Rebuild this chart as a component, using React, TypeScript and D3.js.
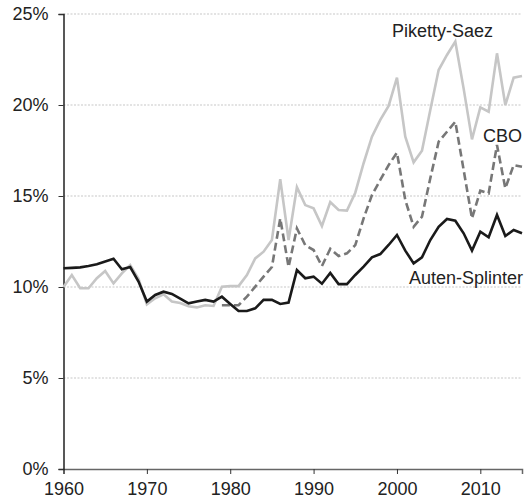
import * as d3 from "d3";
import { useRef, useEffect } from "react";

const years = d3.range(1960, 2016);

const pikettySaez = [
  10.0, 10.66, 9.93, 9.93, 10.48, 10.88, 10.2, 10.75, 11.2, 10.45,
  9.05, 9.38, 9.6, 9.2, 9.12, 8.94, 8.88, 9.0, 8.96, 10.02,
  10.05, 10.05, 10.66, 11.57, 11.94, 12.58, 15.92, 12.58, 15.48, 14.5,
  14.32, 13.35, 14.67, 14.23, 14.2, 15.18, 16.8, 18.26, 19.18, 19.95,
  21.5, 18.26, 16.85, 17.49, 19.73, 21.92, 22.75, 23.48, 20.9, 18.11,
  19.87, 19.63, 22.84, 20.0, 21.5, 21.59,
];

const autenSplinter = [
  11.03, 11.05, 11.08, 11.15, 11.25, 11.4, 11.55, 10.97, 11.1, 10.3,
  9.2, 9.56, 9.74, 9.62, 9.36, 9.1, 9.2, 9.29, 9.2, 9.47,
  9.07, 8.68, 8.68, 8.83, 9.29, 9.29, 9.07, 9.14, 10.93, 10.48,
  10.57, 10.18, 10.77, 10.16, 10.16, 10.66, 11.12, 11.63, 11.81, 12.31,
  12.86, 12.0, 11.3, 11.63, 12.58, 13.31, 13.74, 13.64, 12.95, 12.0,
  13.04, 12.73, 13.96, 12.8, 13.13, 12.95,
];

const cboYears = d3.range(1979, 2016);
const cbo = [
  9.0, 9.0, 9.0, 9.47, 10.02, 10.57, 11.1, 13.77, 11.1, 13.22,
  12.3, 12.03, 11.15, 12.1, 11.7, 11.85, 12.3, 13.77, 15.05, 15.88,
  16.7, 17.38, 14.78, 13.31, 13.86, 15.97, 17.98, 18.53, 19.08, 16.43,
  13.77, 15.29, 15.15, 17.8, 15.42, 16.7, 16.61,
];

const yTicks = [0, 5, 10, 15, 20, 25];
const xTicks = [1960, 1970, 1980, 1990, 2000, 2010];

const font = "Liberation Sans, Arial, sans-serif";

export default function App({
  width = 531,
  height = 501,
  marginTop = 14,
  marginRight = 9,
  marginBottom = 32,
  marginLeft = 63.5,
}) {
  const gx = useRef(null);
  const gy = useRef(null);
  const x = d3.scaleLinear([1960, 2015], [marginLeft, width - marginRight]);
  const y = d3.scaleLinear([0, 25], [height - marginBottom, marginTop]);
  const line = d3
    .line<[number, number]>()
    .x((d) => x(d[0]))
    .y((d) => y(d[1]));

  useEffect(() => {
    const g = d3.select(gx.current);
    g.selectAll("*").remove();
    g.call(
      d3.axisBottom(x).tickValues(xTicks).tickFormat(d3.format("d")).tickSize(5).tickPadding(8)
    );
    g.select(".domain").attr("stroke", "#666").attr("stroke-width", 1.5);
    g.selectAll(".tick line").attr("stroke", "#333");
    g.selectAll("text").attr("font-family", font).attr("font-size", 18).attr("fill", "#222");
  }, [x]);

  useEffect(() => {
    const g = d3.select(gy.current);
    g.selectAll("*").remove();
    g.call(
      d3.axisLeft(y).tickValues(yTicks).tickFormat((d) => `${d}%`).tickSize(5).tickPadding(10)
    );
    g.select(".domain").attr("stroke", "#222").attr("stroke-width", 1.5);
    g.selectAll(".tick line").attr("stroke", "#333");
    g.selectAll("text").attr("font-family", font).attr("font-size", 18).attr("fill", "#222");
  }, [y]);

  const ps = years.map((yr, i) => [yr, pikettySaez[i]] as [number, number]);
  const as = years.map((yr, i) => [yr, autenSplinter[i]] as [number, number]);
  const cb = cboYears.map((yr, i) => [yr, cbo[i]] as [number, number]);

  return (
    <svg
      width={width}
      height={height}
      style={{ position: "absolute", left: 0, top: 0, background: "#fff" }}
    >
      <g stroke="#b0b0b0" strokeWidth="0.7" strokeDasharray="2,1.5">
        {yTicks.slice(1).map((t) => (
          <line key={t} x1={marginLeft} x2={width - marginRight} y1={y(t)} y2={y(t)} />
        ))}
      </g>
      <g ref={gx} transform={`translate(0,${height - marginBottom})`} />
      <g ref={gy} transform={`translate(${marginLeft},0)`} />
      <g fill="none" strokeWidth="2.6" strokeLinejoin="miter">
        <path stroke="#c6c6c6" d={line(ps)} />
        <path stroke="#777" strokeDasharray="8,4" d={line(cb)} />
        <path stroke="#1a1a1a" d={line(as)} />
      </g>
      <g fontFamily={font} fontSize="18" fill="#222" textAnchor="end">
        <text x={493} y={37}>Piketty-Saez</text>
        <text x={522} y={142}>CBO</text>
        <text x={523} y={284}>Auten-Splinter</text>
      </g>
    </svg>
  );
}
